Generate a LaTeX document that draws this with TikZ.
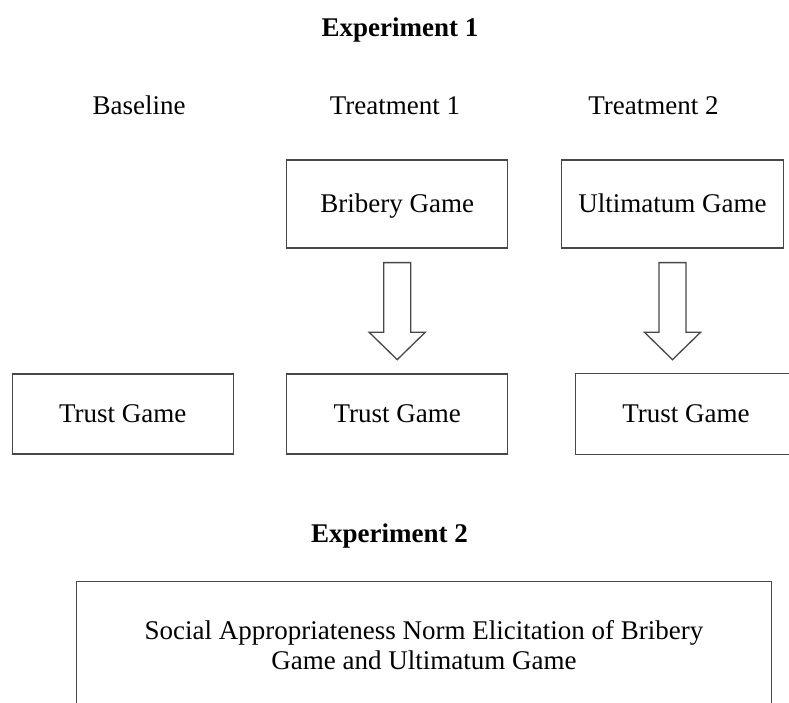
\documentclass[tikz,border=0pt]{standalone}
\usepackage{fontspec}
\setmainfont{Liberation Serif}
\usetikzlibrary{calc}
\newcommand\myblockarrow[1]{%
  \draw[blk] ($(#1.south)+(-13.5,-14)$) -- ($(#1.south)+(-13.5,-83.7)$)
    -- ($(#1.south)+(-28,-83.7)$) -- ($(#1.south)+(0,-111)$)
    -- ($(#1.south)+(28,-83.7)$) -- ($(#1.south)+(13.5,-83.7)$)
    -- ($(#1.south)+(13.5,-14)$) -- cycle;}
\begin{document}
\begin{tikzpicture}[x=1pt,y=1pt,
  txt/.style={font=\fontsize{27}{30}\selectfont},
  box/.style={txt,draw=black!72,line width=1.3pt,minimum width=221pt,minimum height=88pt,inner sep=0pt,text height=22pt,text depth=5pt},
  lbl/.style={txt,anchor=base,inner sep=0pt},
  ttl/.style={lbl,font=\bfseries\fontsize{27}{30}\selectfont},
  edge/.style={draw=black!72,line width=1.3pt},
  blk/.style={edge,fill=white,line join=miter}]
\useasboundingbox (0,0) rectangle (789,703);
\clip (0,0) rectangle (789,703);
\fill[white] (0,0) rectangle (789,703);
\node[ttl] (e1) at (400,666) {Experiment 1};
\node[lbl] (base) at (139,588) {Baseline};
\node[lbl] (t1) at (395,588) {Treatment 1};
\node[lbl] (t2) at (653.5,588) {Treatment 2};
\node[box] (bg) at (397.2,499) {Bribery Game};
\node[box,minimum width=221.6pt] (ug) at (672.5,499) {Ultimatum Game};
\node[box,minimum height=80pt] (tg0) at (122.7,289) {Trust Game};
\node[box,minimum height=80pt] (tg1) at (397.2,289) {Trust Game};
\node[box,draw=none,minimum height=80pt,minimum width=220.3pt] (tg2) at (686,289) {Trust Game};
\draw[edge] ($(tg2.north east)+(10,0)$) -- (tg2.north west) -- (tg2.south west) -- ($(tg2.south east)+(10,0)$);
\myblockarrow{bg}
\myblockarrow{ug}
\node[ttl] (e2) at (389.5,160) {Experiment 2};
\node[draw=black!72,line width=1.3pt,minimum width=695pt,minimum height=160pt,inner sep=0pt] (big) at (424,41.3) {};
\node[txt,align=center,inner sep=0pt] (bigtext) at (424,58) {Social Appropriateness Norm Elicitation of Bribery\\Game and Ultimatum Game};
\end{tikzpicture}
\end{document}
